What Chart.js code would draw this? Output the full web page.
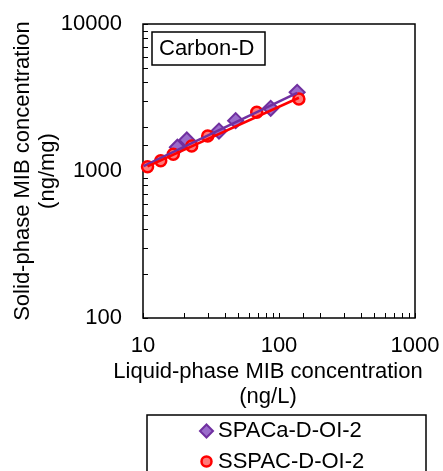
<!DOCTYPE html>
<html>
<head>
<meta charset="utf-8">
<script src="https://cdn.jsdelivr.net/npm/chart.js@4/dist/chart.umd.min.js"></script>
<style>
  html, body { margin: 0; padding: 0; background: #ffffff; }
  #wrap { position: relative; width: 443px; height: 471px; }
</style>
</head>
<body>
<div id="wrap"><canvas id="c" width="443" height="471"></canvas></div>
<script>
// ---- data ----
const seriesNames = ['SPACa-D-OI-2', 'SSPAC-D-OI-2'];
const spacaX = [17.9, 21.0, 36.2, 48.0, 86.9, 136];
const spacaY = [1450, 1625, 1870, 2200, 2670, 3430];
const sspacX = [10.8, 13.5, 16.7, 22.8, 29.9, 68.6, 140];
const sspacY = [1070, 1175, 1300, 1480, 1730, 2510, 3090];
const spacaFitX = [10.1, 136];
const spacaFitY = [1080, 3400];
const sspacFitX = [10.8, 140];
const sspacFitY = [1075, 3150];
const xTickLabels = [10, 100, 1000];
const yTickLabels = [100, 1000, 10000];
const panelLabel = 'Carbon-D';
const xTitle = ['Liquid-phase MIB concentration', '(ng/L)'];
const yTitle = ['Solid-phase MIB concentration', '(ng/mg)'];

const FONT = '"Liberation Sans", Arial, sans-serif';
const PURPLE = '#7030A0';
const PURPLE_FILL = '#9A6CCB';
const RED = '#FF0000';
const RED_FILL = '#FF7A7A';

function pts(xs, ys) { return xs.map((x, i) => ({ x: x, y: ys[i] })); }

const framePlugin = {
  id: 'frame',
  beforeDatasetsDraw(chart) {
    const { ctx, chartArea: a } = chart;
    ctx.save();
    ctx.strokeStyle = '#000';
    ctx.lineWidth = 1.5;
    ctx.strokeRect(a.left, a.top, a.right - a.left, a.bottom - a.top);
    // inward ticks
    ctx.lineWidth = 1;
    const xs = chart.scales.x, ys = chart.scales.y;
    xs.ticks.forEach(t => {
      const px = Math.round(xs.getPixelForValue(t.value)) + 0.5;
      ctx.beginPath(); ctx.moveTo(px, a.bottom); ctx.lineTo(px, a.bottom - 5); ctx.stroke();
    });
    ys.ticks.forEach(t => {
      const py = Math.round(ys.getPixelForValue(t.value)) + 0.5;
      ctx.beginPath(); ctx.moveTo(a.left, py); ctx.lineTo(a.left + 5, py); ctx.stroke();
    });
    ctx.restore();
  },
  afterDraw(chart) {
    const { ctx } = chart;
    ctx.save();
    ctx.fillStyle = '#000';
    ctx.font = '22px ' + FONT;
    ctx.textBaseline = 'middle';
    // x axis title
    ctx.textAlign = 'center';
    ctx.fillText(xTitle[0], 268, 372);
    ctx.fillText(xTitle[1], 268, 397);
    // panel label box
    ctx.textAlign = 'left';
    ctx.strokeStyle = '#000';
    ctx.lineWidth = 1.5;
    ctx.strokeRect(152, 32, 113, 33);
    ctx.fillText(panelLabel, 159, 49);
    // legend box
    ctx.strokeRect(147, 415, 279, 70);
    // diamond marker
    ctx.beginPath();
    const dx = 206.5, dy = 431, r = 6.5;
    ctx.moveTo(dx, dy - r); ctx.lineTo(dx + r, dy); ctx.lineTo(dx, dy + r); ctx.lineTo(dx - r, dy); ctx.closePath();
    ctx.fillStyle = PURPLE_FILL; ctx.fill();
    ctx.strokeStyle = PURPLE; ctx.lineWidth = 2; ctx.stroke();
    // circle marker
    ctx.beginPath();
    ctx.arc(206.5, 461.5, 5, 0, Math.PI * 2);
    ctx.fillStyle = RED_FILL; ctx.fill();
    ctx.strokeStyle = RED; ctx.lineWidth = 2.5; ctx.stroke();
    ctx.fillStyle = '#000';
    ctx.fillText(seriesNames[0], 218, 431);
    ctx.fillText(seriesNames[1], 218, 462);
    ctx.restore();
  }
};

new Chart(document.getElementById('c'), {
  type: 'scatter',
  data: {
    datasets: [
      { label: seriesNames[1] + ' fit', data: pts(sspacFitX, sspacFitY), showLine: true,
        borderColor: RED, borderWidth: 2.5, pointRadius: 0, order: 0, clip: false },
      { label: seriesNames[0] + ' fit', data: pts(spacaFitX, spacaFitY), showLine: true,
        borderColor: PURPLE, borderWidth: 2.5, pointRadius: 0, order: 1, clip: false },
      { label: seriesNames[1], data: pts(sspacX, sspacY), pointStyle: 'circle', pointRadius: 5.5,
        backgroundColor: RED_FILL, borderColor: RED, borderWidth: 2.5, order: 2, clip: false },
      { label: seriesNames[0], data: pts(spacaX, spacaY), pointStyle: 'rectRot', pointRadius: 7.5,
        backgroundColor: PURPLE_FILL, borderColor: PURPLE, borderWidth: 2, order: 3, clip: false }
    ]
  },
  options: {
    responsive: false,
    animation: false,
    events: [],
    layout: { padding: { top: 24, right: 28, left: 0, bottom: 0 } },
    plugins: { legend: { display: false }, tooltip: { enabled: false } },
    scales: {
      x: {
        type: 'logarithmic', min: 10, max: 1000,
        grid: { display: false, drawTicks: false },
        border: { display: false },
        ticks: {
          autoSkip: false, maxRotation: 0, padding: 15, color: '#000',
          font: { family: FONT, size: 22 },
          callback: v => xTickLabels.includes(v) ? String(v) : ''
        },
        title: { display: false },
        afterFit: s => { s.height = 153; s.paddingLeft = 0; s.paddingRight = 0; s.paddingTop = 0; s.paddingBottom = 0; }
      },
      y: {
        type: 'logarithmic', min: 100, max: 10000,
        grid: { display: false, drawTicks: false },
        border: { display: false },
        ticks: {
          autoSkip: false, padding: 21, color: '#000',
          font: { family: FONT, size: 22 },
          callback: v => yTickLabels.includes(v) ? String(v) : ''
        },
        title: { display: true, text: yTitle, color: '#000',
          font: { family: FONT, size: 22, lineHeight: 1.15 },
          padding: { top: 10, bottom: 0 } },
        afterFit: s => { s.width = 143; s.paddingLeft = 0; s.paddingRight = 0; s.paddingTop = 0; s.paddingBottom = 0; }
      }
    }
  },
  plugins: [framePlugin]
});
</script>
</body>
</html>
